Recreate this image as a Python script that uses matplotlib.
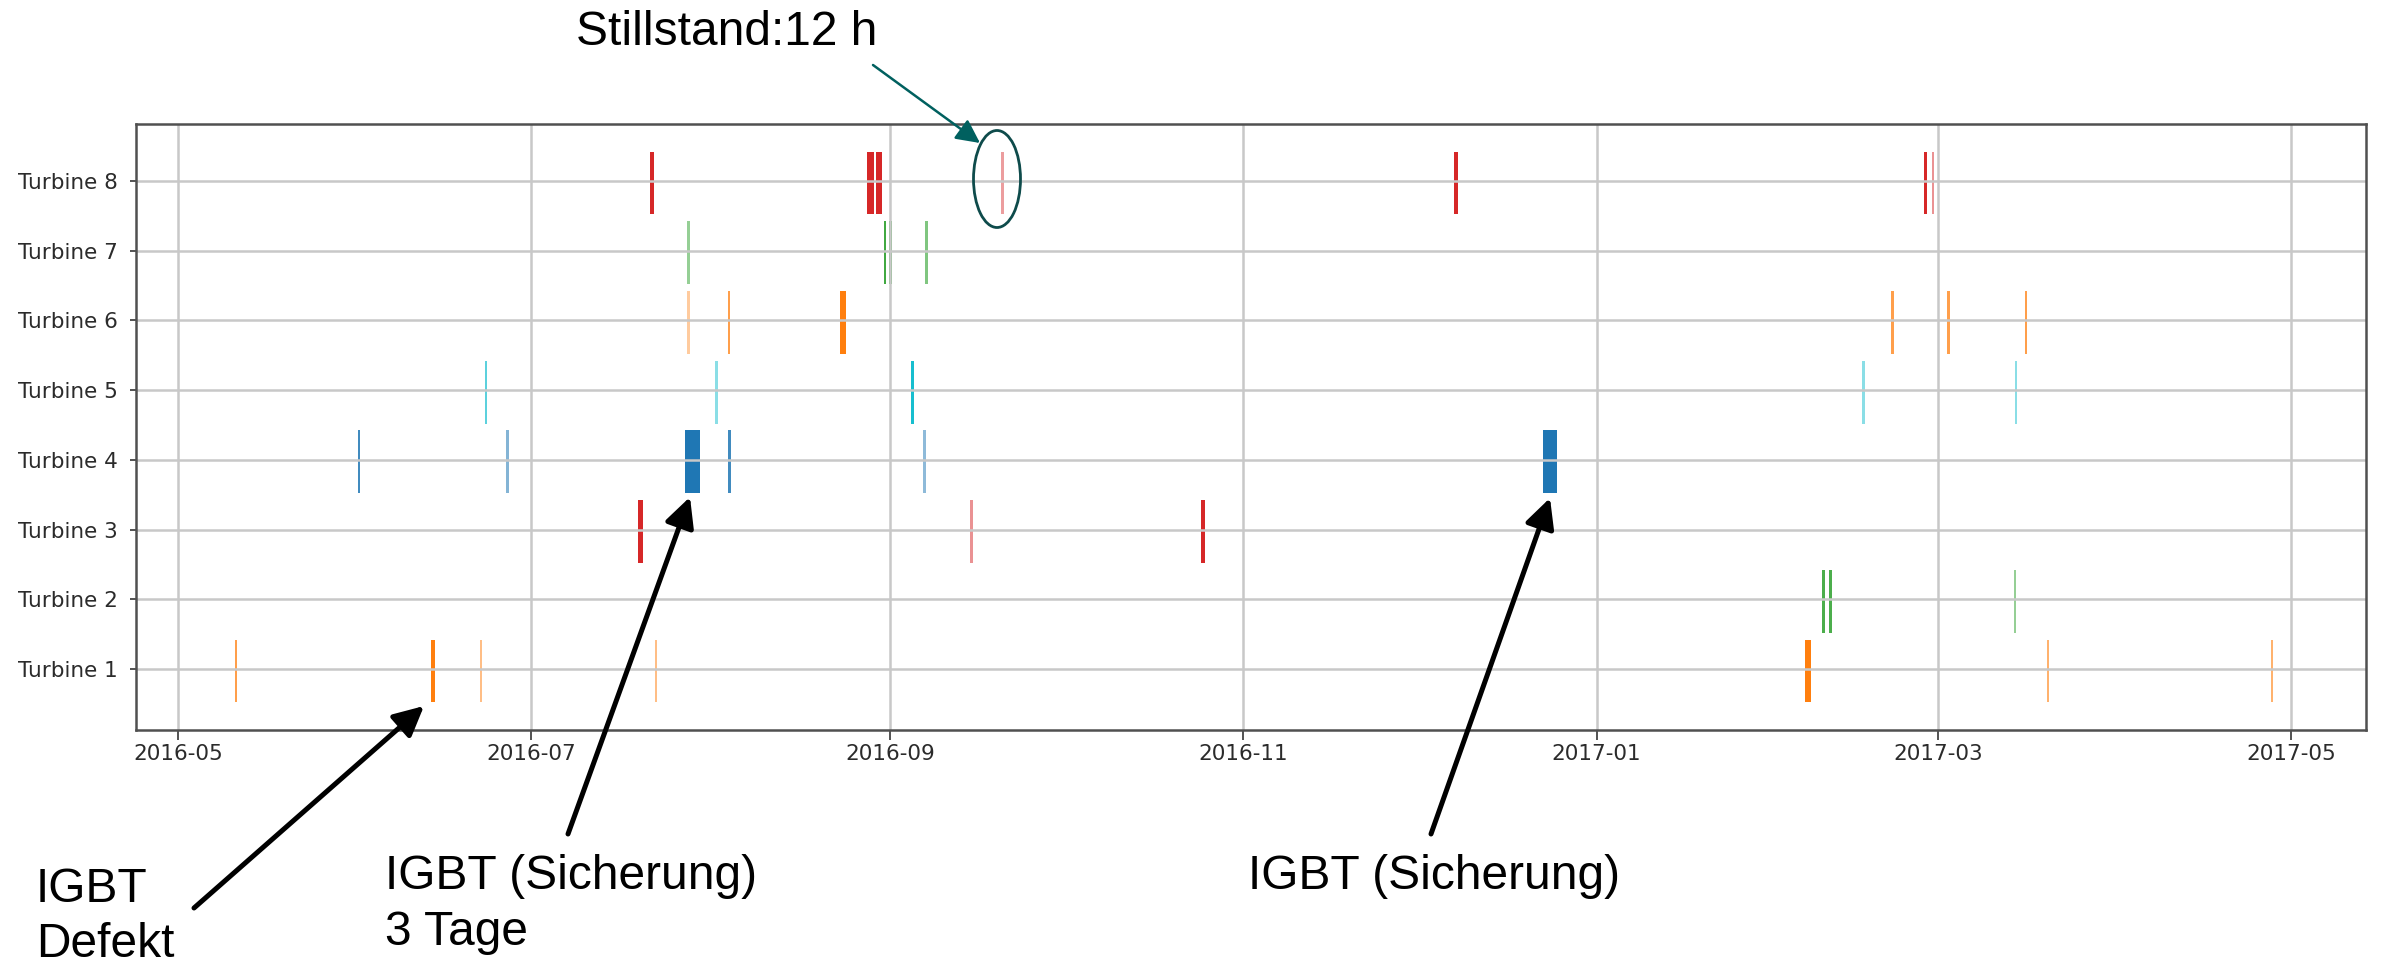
import matplotlib
matplotlib.use('Agg')
import matplotlib.pyplot as plt
import matplotlib.dates as mdates
from matplotlib.patches import Ellipse
import pandas as pd

# turbine rows (bottom to top) and their colours
turbines = ['Turbine 1', 'Turbine 2', 'Turbine 3', 'Turbine 4',
            'Turbine 5', 'Turbine 6', 'Turbine 7', 'Turbine 8']
colors = ['tab:orange', 'tab:green', 'tab:red', 'tab:blue',
          'tab:cyan', 'tab:orange', 'tab:green', 'tab:red']

# downtime events: start time, duration in hours, alpha
t1_start = ['2016-05-10 18:00', '2016-06-13 14:00', '2016-06-22 01:30', '2016-07-22 07:00',
            '2017-02-06 02:00', '2017-03-19 19:00', '2017-04-27 12:00']
t1_hours = [10, 20, 10, 10, 24, 10, 10]
t1_alpha = [0.75, 1.0, 0.5, 0.5, 1.0, 0.6, 0.6]

t2_start = ['2017-02-09 00:00', '2017-02-10 05:00', '2017-03-14 02:00']
t2_hours = [10, 10, 10]
t2_alpha = [0.85, 0.85, 0.5]

t3_start = ['2016-07-19 10:00', '2016-09-14 20:00', '2016-10-24 16:00']
t3_hours = [20, 12, 16]
t3_alpha = [1.0, 0.5, 1.0]

t4_start = ['2016-06-01 00:00', '2016-06-26 16:00', '2016-07-27 12:00', '2016-08-04 00:00',
            '2016-09-06 16:00', '2016-12-22 16:00']
t4_hours = [10, 12, 64, 10, 12, 59]
t4_alpha = [0.85, 0.55, 1.0, 0.85, 0.5, 1.0]

t5_start = ['2016-06-22 22:00', '2016-08-01 19:00', '2016-09-04 16:00', '2017-02-15 22:00',
            '2017-03-14 05:00']
t5_hours = [10, 10, 12, 10, 10]
t5_alpha = [0.7, 0.5, 1.0, 0.5, 0.5]

t6_start = ['2016-07-27 23:00', '2016-08-03 23:00', '2016-08-23 07:00', '2017-02-20 22:00',
            '2017-03-02 14:00', '2017-03-15 23:00']
t6_hours = [12, 10, 24, 10, 10, 10]
t6_alpha = [0.4, 0.75, 1.0, 0.75, 0.75, 0.75]

t7_start = ['2016-07-27 23:00', '2016-08-30 22:00', '2016-08-31 19:00', '2016-09-07 02:00']
t7_hours = [12, 10, 12, 10]
t7_alpha = [0.5, 0.9, 0.8, 0.6]

t8_start = ['2016-07-21 10:00', '2016-08-28 00:00', '2016-08-29 11:00', '2016-09-20 04:00',
            '2016-12-07 11:00', '2017-02-26 14:00', '2017-02-27 23:00']
t8_hours = [20, 28, 25, 12, 16, 10, 10]
t8_alpha = [1.0, 1.0, 1.0, 0.45, 1.0, 1.0, 0.5]

starts = [t1_start, t2_start, t3_start, t4_start, t5_start, t6_start, t7_start, t8_start]
hours = [t1_hours, t2_hours, t3_hours, t4_hours, t5_hours, t6_hours, t7_hours, t8_hours]
alphas = [t1_alpha, t2_alpha, t3_alpha, t4_alpha, t5_alpha, t6_alpha, t7_alpha, t8_alpha]

W, H = 2392, 968
fig = plt.figure(figsize=(W / 100, H / 100), dpi=100)
ax = fig.add_axes([136 / W, 1 - 730 / H, (2366 - 136) / W, (730 - 124) / H])

for i in range(len(turbines)):
    y = i + 1
    x0 = mdates.date2num(pd.to_datetime(starts[i]))
    for s, h, a in zip(x0, hours[i], alphas[i]):
        ax.broken_barh([(s, h / 24.0)], (y - 0.48, 0.9), facecolors=colors[i], alpha=a)

ax.xaxis_date()
ax.set_xlim(pd.Timestamp('2016-04-23 17:00'), pd.Timestamp('2017-05-13 22:00'))
ax.xaxis.set_major_locator(mdates.MonthLocator(bymonth=[1, 3, 5, 7, 9, 11]))
ax.xaxis.set_major_formatter(mdates.DateFormatter('%Y-%m'))
ax.set_yticks(range(1, len(turbines) + 1))
ax.set_yticklabels(turbines)

ax.grid(True, color='#c8c8c8', lw=1.8)
ax.tick_params(axis='x', labelsize=15.5, length=7, width=1.3, color='#444444',
               labelcolor='#2b2b2b', pad=3)
ax.tick_params(axis='y', labelsize=15.5, length=4, width=1.3, color='#444444',
               labelcolor='#2b2b2b', pad=9)
for sp in ax.spines.values():
    sp.set_color('#505050')
    sp.set_linewidth(1.8)

# overlay for the slide annotations (pixel coordinates)
ov = fig.add_axes([0, 0, 1, 1], zorder=5)
ov.set_xlim(0, W)
ov.set_ylim(H, 0)
ov.axis('off')
ov.patch.set_alpha(0)

tkw = dict(fontsize=34.5, family='Liberation Sans', color='black', va='baseline', ha='left')
ov.text(576, 45, 'Stillstand:12 h', **tkw)
ov.text(36, 902, 'IGBT', **tkw)
ov.text(36, 957, 'Defekt', **tkw)
ov.text(385, 889, 'IGBT (Sicherung)', **tkw)
ov.text(385, 945, '3 Tage', **tkw)
ov.text(1248, 889, 'IGBT (Sicherung)', **tkw)

akw = dict(arrowstyle='-|>,head_length=0.4,head_width=0.2', color='black', lw=3.6,
           mutation_scale=45, shrinkA=0, shrinkB=0)
ov.annotate('', xy=(424, 706), xytext=(194, 908), arrowprops=akw)
ov.annotate('', xy=(690, 497), xytext=(568, 834), arrowprops=akw)
ov.annotate('', xy=(1550, 498), xytext=(1431, 834), arrowprops=akw)

ov.annotate('', xy=(980, 143), xytext=(873, 65),
            arrowprops=dict(arrowstyle='-|>,head_length=0.4,head_width=0.2', color='#00605f',
                            lw=1.8, mutation_scale=36, shrinkA=0, shrinkB=0))
ov.add_patch(Ellipse((997, 179), 47, 97, fill=False, ec='#0e4b4b', lw=2))

fig.savefig('out.png', dpi=100)
